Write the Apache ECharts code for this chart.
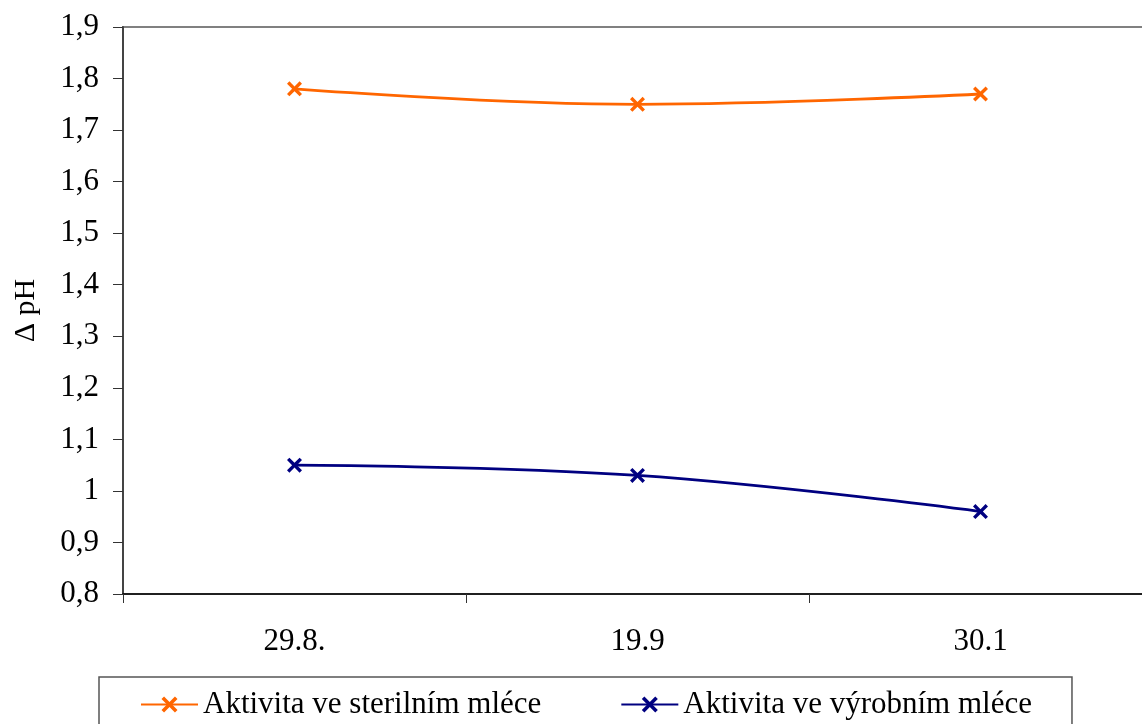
<!DOCTYPE html>
<html>
<head>
<meta charset="utf-8">
<script src="https://cdn.jsdelivr.net/npm/echarts@6/dist/echarts.min.js"></script>
<style>html,body{margin:0;padding:0;background:#fff}#c{width:1142px;height:724px}</style>
</head>
<body>
<div id="c"></div>
<script>
const categories = ['29.8.', '19.9', '30.1'];
const sterilni = [1.78, 1.75, 1.77];
const vyrobni = [1.05, 1.03, 0.96];
const seriesNames = ['Aktivita ve sterilním mléce', 'Aktivita ve výrobním mléce'];
const yMin = 0.8, yMax = 1.9, yStep = 0.1;

const X = 'path://M0,1.6 L1.6,0 L5,3.4 L8.4,0 L10,1.6 L6.6,5 L10,8.4 L8.4,10 L5,6.6 L1.6,10 L0,8.4 L3.4,5 Z';
const font = 'Liberation Serif, Times New Roman, serif';
const chart = echarts.init(document.getElementById('c'));
chart.setOption({
  animation: false,
  backgroundColor: '#fff',
  textStyle: { fontFamily: font },
  grid: { left: 123, top: 27, width: 1029, height: 567, outerBoundsMode: 'none', containLabel: false,
    show: true, borderColor: '#808080', borderWidth: 2, backgroundColor: 'transparent' },
  legend: {
    left: 99, top: 677,
    padding: [12, 40, 40, 41],
    itemGap: 79,
    itemWidth: 57, itemHeight: 20,
    borderColor: '#555', borderWidth: 1.5,
    textStyle: { fontFamily: font, fontSize: 31, color: '#000' },
    data: seriesNames
  },
  xAxis: {
    type: 'category', data: categories, boundaryGap: true,
    axisLine: { lineStyle: { color: '#000', width: 1.5 } },
    axisTick: { show: true, interval: 0, length: 9, lineStyle: { color: '#333' } },
    axisLabel: { fontFamily: font, fontSize: 31, color: '#000', margin: 32 },
    splitLine: { show: false }
  },
  yAxis: {
    type: 'value', min: yMin, max: yMax, interval: yStep,
    name: 'Δ pH', nameLocation: 'middle', nameRotate: 90, nameGap: 82,
    nameTextStyle: { fontFamily: font, fontSize: 30, color: '#000' },
    axisLine: { show: true, lineStyle: { color: '#444', width: 2 } },
    axisTick: { show: true, length: 10, lineStyle: { color: '#333' } },
    axisLabel: { fontFamily: font, fontSize: 31, color: '#000', margin: 24,
      formatter: v => String(Math.round(v * 10) / 10).replace('.', ',') },
    splitLine: { show: false }
  },
  series: [
    { name: seriesNames[0], type: 'line', data: sterilni, smooth: 0.4,
      symbol: X, symbolSize: 15, color: '#FF6600',
      lineStyle: { width: 2.8, color: '#FF6600' }, itemStyle: { color: '#FF6600' } },
    { name: seriesNames[1], type: 'line', data: vyrobni, smooth: 0.4,
      symbol: X, symbolSize: 15, color: '#000080',
      lineStyle: { width: 2.8, color: '#000080' }, itemStyle: { color: '#000080' } }
  ]
});
</script>
</body>
</html>
